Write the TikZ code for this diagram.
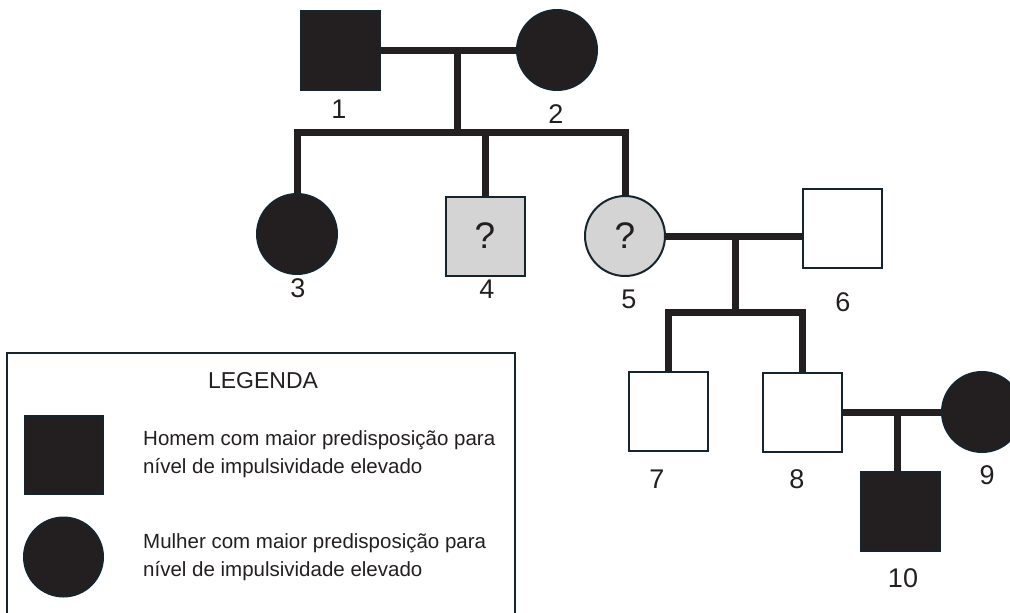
\documentclass[tikz,border=0pt]{standalone}
\usepackage{fontspec}
\setmainfont{Liberation Sans}
\definecolor{ink}{RGB}{35,31,32}
\definecolor{edge}{RGB}{22,36,46}
\definecolor{unknown}{RGB}{212,212,212}
\tikzset{
	male/.style={rectangle, draw=edge, line width=2pt, minimum width=79pt, minimum height=79pt, inner sep=0pt},
	female/.style={circle, draw=edge, line width=2pt, minimum size=80pt, inner sep=0pt},
	num/.style={inner sep=0pt, text=ink, font=\fontsize{27}{27}\selectfont},
	kin/.style={line width=7pt, color=ink},
	legtext/.style={anchor=west, align=left, inner sep=0pt, text=ink, font=\fontsize{20.5}{28}\selectfont},
}

\begin{document}
\begin{tikzpicture}[x=1pt, y=-1pt]
		%%%%% START %%%%%
		\useasboundingbox (0, 0) rectangle (1010, 613);
		
		% generation I
		\node[male, fill=ink] (n1) at (340, 50) {};
		\node[female, fill=ink] (n2) at (557, 50) {};
		\node[num] (t1) at (339, 109) {1};
		\node[num] (t2) at (556, 114) {2};
		
		% generation II
		\node[female, fill=ink] (n3) at (297, 234) {};
		\node[male, fill=unknown, text=ink, font=\fontsize{37}{37}\selectfont] (n4) at (485, 236) {?};
		\node[female, fill=unknown, text=ink, font=\fontsize{37}{37}\selectfont] (n5) at (625, 236) {?};
		\node[male, fill=white] (n6) at (842, 228) {};
		\node[num] (t3) at (298, 288) {3};
		\node[num] (t4) at (487, 289) {4};
		\node[num] (t5) at (629, 299) {5};
		\node[num] (t6) at (843, 302) {6};
		
		% generation III
		\node[male, fill=white] (n7) at (668, 411) {};
		\node[male, fill=white] (n8) at (802, 412) {};
		\node[female, fill=ink] (n9) at (982, 412) {};
		\node[num] (t7) at (657, 479) {7};
		\node[num] (t8) at (797, 479) {8};
		\node[num] (t9) at (987, 475) {9};
		
		% generation IV
		\node[male, fill=ink] (n10) at (900, 511) {};
		\node[num] (t10) at (903, 578) {10};
		
		% lines
		\coordinate (m12) at (457, 50);
		\coordinate (s12) at (457, 132);
		\draw[kin] (n1.east) -- (n2.west);
		\draw[kin] (m12) -- (s12);
		\draw[kin] (n3.north) |- (s12) -| (n5.north);
		\draw[kin] (n4.north) -- (n4.north |- s12);
		
		\coordinate (m56) at (735, 236);
		\coordinate (s56) at (735, 312);
		\draw[kin] (n5.east) -- (n5.east -| n6.west);
		\draw[kin] (m56) -- (s56);
		\draw[kin] (n7.north) |- (s56) -| (n8.north);
		
		\coordinate (m89) at (897, 412);
		\draw[kin] (n8.east) -- (n9.west);
		\draw[kin] (m89) -- (m89 |- n10.north);
		
		% legend
		\draw[line width=2pt, draw=edge] (7, 353) rectangle (515, 625);
		\node[inner sep=0pt, text=ink, font=\fontsize{23}{23}\selectfont] (leg) at (263, 381) {LEGENDA};
		\node[male, fill=ink, minimum width=78pt, minimum height=78pt] (kmale) at (63.5, 454.5) {};
		\node[female, fill=ink, minimum size=79pt] (kfemale) at (63.5, 557) {};
		\node[legtext] (kmaletxt) at (143, 454) {Homem com maior predisposição para\\nível de impulsividade elevado};
		\node[legtext] (kfemaletxt) at (143, 557) {Mulher com maior predisposição para\\nível de impulsividade elevado};
		
		%%%%% END %%%%%
	\end{tikzpicture}
\end{document}
